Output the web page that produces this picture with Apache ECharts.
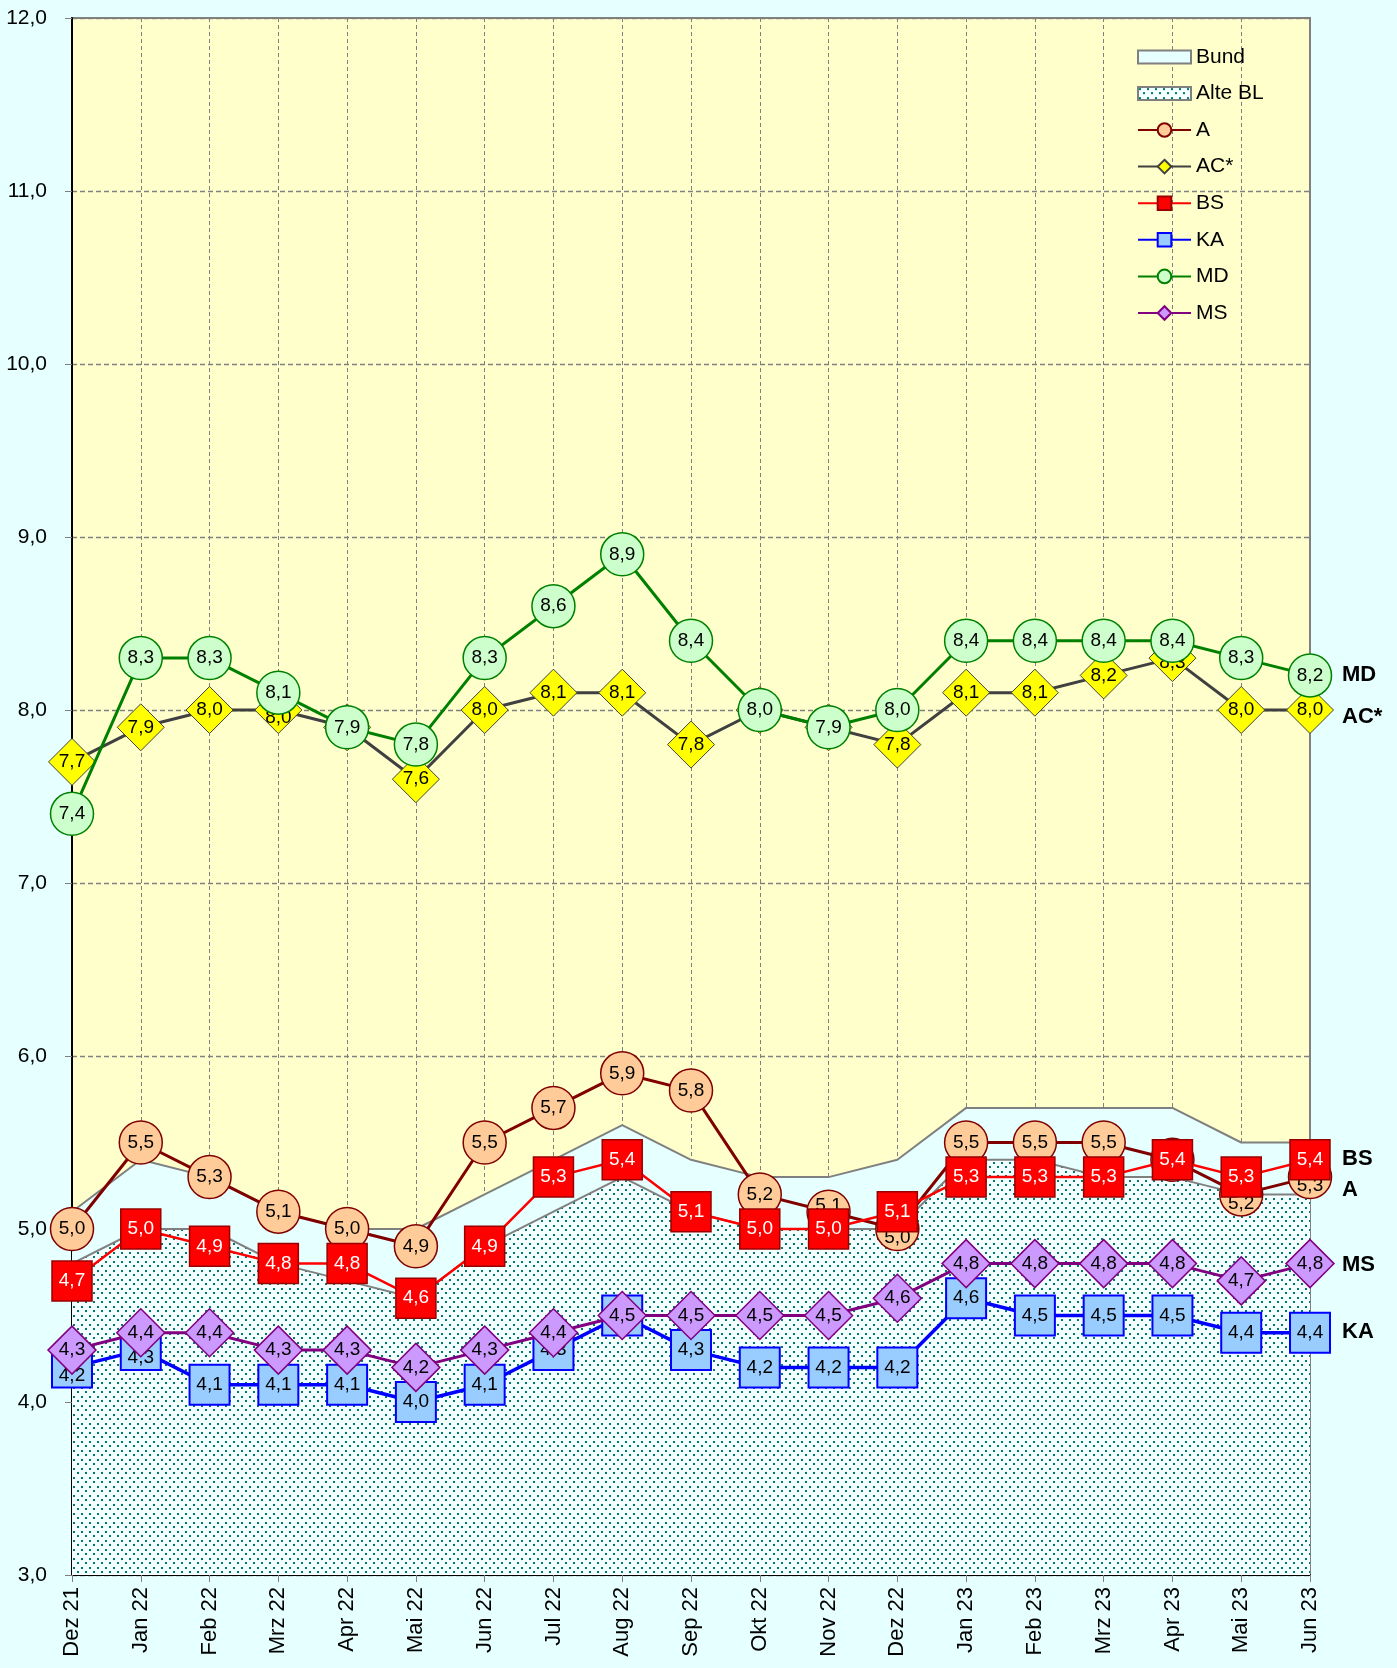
<!DOCTYPE html>
<html>
<head>
<meta charset="utf-8">
<title>Arbeitslosenquote</title>
<script src="https://cdn.jsdelivr.net/npm/echarts@6/dist/echarts.min.js"></script>
<style>
  html, body { margin: 0; padding: 0; background: #E6FFFF; }
  #chart { width: 1397px; height: 1668px; }
</style>
</head>
<body>
<div id="chart"></div>
<script>
// Monate (x-Achse)
const months = ['Dez 21', 'Jan 22', 'Feb 22', 'Mrz 22', 'Apr 22', 'Mai 22', 'Jun 22', 'Jul 22', 'Aug 22',
  'Sep 22', 'Okt 22', 'Nov 22', 'Dez 22', 'Jan 23', 'Feb 23', 'Mrz 23', 'Apr 23', 'Mai 23', 'Jun 23']

// Flächen
const bund = [5.1, 5.4, 5.3, 5.1, 5.0, 5.0, 5.2, 5.4, 5.6, 5.4, 5.3, 5.3, 5.4, 5.7, 5.7, 5.7, 5.7, 5.5, 5.5]
const alteBL = [4.8, 5.0, 5.0, 4.8, 4.7, 4.6, 4.9, 5.1, 5.3, 5.1, 5.0, 5.0, 5.0, 5.4, 5.4, 5.3, 5.3, 5.2, 5.2]

// Linien
const valA = [5.0, 5.5, 5.3, 5.1, 5.0, 4.9, 5.5, 5.7, 5.9, 5.8, 5.2, 5.1, 5.0, 5.5, 5.5, 5.5, 5.4, 5.2, 5.3]
const valAC = [7.7, 7.9, 8.0, 8.0, 7.9, 7.6, 8.0, 8.1, 8.1, 7.8, 8.0, 7.9, 7.8, 8.1, 8.1, 8.2, 8.3, 8.0, 8.0]
const valBS = [4.7, 5.0, 4.9, 4.8, 4.8, 4.6, 4.9, 5.3, 5.4, 5.1, 5.0, 5.0, 5.1, 5.3, 5.3, 5.3, 5.4, 5.3, 5.4]
const valKA = [4.2, 4.3, 4.1, 4.1, 4.1, 4.0, 4.1, 4.3, 4.5, 4.3, 4.2, 4.2, 4.2, 4.6, 4.5, 4.5, 4.5, 4.4, 4.4]
const valMD = [7.4, 8.3, 8.3, 8.1, 7.9, 7.8, 8.3, 8.6, 8.9, 8.4, 8.0, 7.9, 8.0, 8.4, 8.4, 8.4, 8.4, 8.3, 8.2]
const valMS = [4.3, 4.4, 4.4, 4.3, 4.3, 4.2, 4.3, 4.4, 4.5, 4.5, 4.5, 4.5, 4.6, 4.8, 4.8, 4.8, 4.8, 4.7, 4.8]

// y-Achse
const yMin = 3
const yMax = 12
const yStep = 1

const FONT = '"Liberation Sans", Arial, sans-serif'

// verschobene Datenbeschriftungen (Index -> px nach unten), damit sie nicht verdeckt werden
const labelShift = {
  'A': { 11: -6, 12: 9, 17: 9, 18: 9 },
  'AC*': { 3: 8, 16: 5 },
  'KA': { 0: 8, 1: 8 }
}

// Komma statt Punkt
function fmt(v) {
  return Number(v).toFixed(1).replace('.', ',')
}

// Punktraster für "Alte BL"
function dotPattern() {
  const c = document.createElement('canvas')
  c.width = 8
  c.height = 9
  const ctx = c.getContext('2d')
  ctx.fillStyle = '#F4FFFF'
  ctx.fillRect(0, 0, 8, 9)
  ctx.fillStyle = '#007A70'
  ctx.fillRect(1, 1, 2, 2)
  ctx.fillRect(5, 5, 2, 2)
  return { image: c, repeat: 'repeat' }
}
const dots = dotPattern()

function withShift(name, data) {
  const s = labelShift[name] || {}
  return data.map((v, i) => (s[i] !== undefined ? { value: v, label: { offset: [0, s[i]] } } : v))
}

function lineSeries(name, data, cfg) {
  return {
    name: name,
    type: 'line',
    data: withShift(name, data),
    symbol: cfg.symbol,
    symbolSize: cfg.size,
    showAllSymbol: true,
    z: cfg.z,
    lineStyle: { color: cfg.line, width: cfg.width },
    itemStyle: { color: cfg.fill, borderColor: cfg.border, borderWidth: cfg.borderWidth || 1.5 },
    label: {
      show: true,
      position: 'inside',
      formatter: p => fmt(p.value),
      fontSize: 19,
      fontFamily: FONT,
      color: cfg.textColor || '#000'
    },
    endLabel: {
      show: true,
      formatter: cfg.end,
      distance: 32,
      offset: cfg.endOffset || [0, 2],
      fontSize: 22,
      fontWeight: 'bold',
      fontFamily: FONT,
      color: '#000'
    },
    emphasis: { disabled: true }
  }
}

const chart = echarts.init(document.getElementById('chart'), null, { renderer: 'canvas' })

const legendBase = {
  orient: 'vertical',
  left: 1137,
  padding: 0,
  itemWidth: 53,
  itemGap: 14.6,
  textStyle: { fontSize: 21, color: '#000', fontFamily: FONT, lineHeight: 22 }
}

const option = {
  backgroundColor: '#E6FFFF',
  animation: false,
  textStyle: { fontFamily: FONT },
  grid: {
    left: 72, right: 87, top: 18, bottom: 93,
    show: true,
    backgroundColor: '#FFFFCC',
    borderColor: '#808080',
    borderWidth: 2
  },
  legend: [
    Object.assign({}, legendBase, {
      top: 46,
      itemHeight: 13,
      data: [
        { name: 'Bund', icon: 'rect', itemStyle: { color: '#E6FFFF', borderColor: '#808080', borderWidth: 2 } },
        { name: 'Alte BL', icon: 'rect', itemStyle: { color: dots, borderColor: '#808080', borderWidth: 2 } }
      ]
    }),
    Object.assign({}, legendBase, {
      top: 119,
      itemHeight: 17,
      data: ['A', 'AC*', 'BS', 'KA', 'MD', 'MS']
    })
  ],
  xAxis: {
    type: 'category',
    data: months,
    boundaryGap: false,
    axisLine: { lineStyle: { color: '#000', width: 2 } },
    axisTick: { show: true, length: 7, lineStyle: { color: '#808080' } },
    axisLabel: { rotate: 90, fontSize: 22, color: '#000', margin: 12, fontFamily: FONT },
    splitLine: { show: true, lineStyle: { color: '#808080', type: [4, 3], width: 1 } }
  },
  yAxis: {
    type: 'value',
    min: yMin,
    max: yMax,
    interval: yStep,
    axisLine: { show: true, lineStyle: { color: '#000', width: 2 } },
    axisTick: { show: true, length: 7, lineStyle: { color: '#808080' } },
    axisLabel: { fontSize: 21, color: '#000', margin: 25, fontFamily: FONT, formatter: v => fmt(v) },
    splitLine: { show: true, lineStyle: { color: '#808080', type: [5, 3], width: 1.3 } }
  },
  series: [
    {
      name: 'Bund', type: 'line', data: bund, symbol: 'none', z: 1,
      lineStyle: { color: '#808080', width: 2 },
      itemStyle: { color: '#E6FFFF' },
      areaStyle: { color: '#E6FFFF', opacity: 1, origin: 'start' },
      emphasis: { disabled: true }
    },
    {
      name: 'Alte BL', type: 'line', data: alteBL, symbol: 'none', z: 1,
      lineStyle: { color: '#808080', width: 2 },
      itemStyle: { color: '#F4FFFF' },
      areaStyle: { color: dots, opacity: 1, origin: 'start' },
      emphasis: { disabled: true }
    },
    lineSeries('A', valA, { symbol: 'circle', size: 43, line: '#800000', width: 3, fill: '#FFCC99', border: '#800000', end: 'A', endOffset: [0, 13], z: 3 }),
    lineSeries('BS', valBS, { symbol: 'rect', size: 40, line: '#FF0000', width: 2.5, fill: '#FF0000', border: '#990000', textColor: '#fff', end: 'BS', endOffset: [0, -1], z: 4 }),
    lineSeries('KA', valKA, { symbol: 'rect', size: 40, line: '#0000FF', width: 3.5, fill: '#99CCFF', border: '#0000FF', borderWidth: 2, end: 'KA', endOffset: [0, -1], z: 3 }),
    lineSeries('MS', valMS, { symbol: 'diamond', size: 48, line: '#800080', width: 3, fill: '#CC99FF', border: '#800080', end: 'MS', endOffset: [0, 1], z: 4 }),
    lineSeries('AC*', valAC, { symbol: 'diamond', size: 47, line: '#404040', width: 3, fill: '#FFFF00', border: '#404040', borderWidth: 1, end: 'AC*', endOffset: [0, 7], z: 3 }),
    lineSeries('MD', valMD, { symbol: 'circle', size: 43, line: '#008000', width: 3, fill: '#CCFFCC', border: '#008000', end: 'MD', endOffset: [0, 0], z: 4 })
  ]
}

chart.setOption(option)
</script>
</body>
</html>
